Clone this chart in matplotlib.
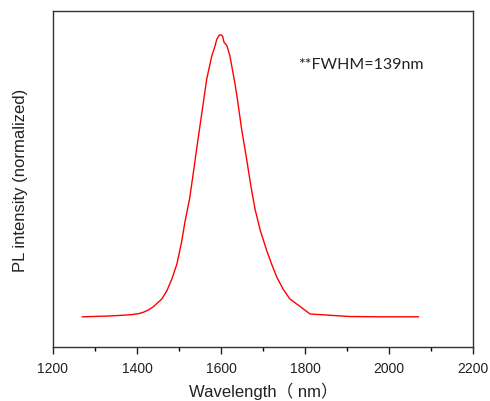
import matplotlib
matplotlib.use("Agg")
import matplotlib.pyplot as plt
from matplotlib.ticker import MultipleLocator, NullLocator

# 스펙트럼 데이터
wavelength = [1270, 1336, 1383, 1403, 1415, 1428, 1439, 1459, 1471, 1483,
              1495, 1506, 1514, 1525, 1532, 1542, 1558, 1566, 1578, 1586,
              1590, 1596, 1601, 1604, 1607, 1614, 1621, 1633, 1639, 1649,
              1661, 1671, 1681, 1693, 1709, 1720, 1733, 1748, 1764, 1788,
              1812, 1844, 1907, 1979, 2070]
intensity = [0.001, 0.004, 0.008, 0.012, 0.017, 0.026, 0.037, 0.064, 0.093, 0.135,
             0.188, 0.265, 0.336, 0.418, 0.489, 0.596, 0.761, 0.844, 0.925, 0.962,
             0.985, 1.000, 1.000, 0.995, 0.975, 0.962, 0.927, 0.830, 0.773, 0.667,
             0.560, 0.466, 0.383, 0.310, 0.235, 0.190, 0.141, 0.099, 0.064, 0.038,
             0.011, 0.008, 0.002, 0.001, 0.001]

annotation = "**FWHM=139nm"

plt.rcParams['font.family'] = ['Liberation Sans', 'Noto Sans CJK SC']

fig = plt.figure(figsize=(4.9, 4.02), dpi=100)
ax = fig.add_axes([53 / 490, 54 / 402, 420 / 490, 336 / 402])

ax.plot(wavelength, intensity, color='#ff0000', lw=1.0)

ax.set_xlim(1200, 2200)
ax.set_ylim(-0.106, 1.085)

ax.xaxis.set_major_locator(MultipleLocator(200))
ax.xaxis.set_minor_locator(MultipleLocator(100))
ax.yaxis.set_major_locator(NullLocator())
ax.tick_params(axis='x', which='major', direction='out', length=5, width=1,
               labelsize=10, pad=5, colors='#222222')
ax.tick_params(axis='x', which='minor', direction='out', length=2.7, width=1)

for s in ax.spines.values():
    s.set_color('#333333')
    s.set_linewidth(1.0)

ax.set_xlabel("Wavelength（ nm）", fontsize=12, color='#222222', labelpad=5)
ax.set_ylabel("PL intensity (normalized)", fontsize=12, color='#222222', labelpad=18)

ax.text(1783, 0.897, annotation, family=['Lato', 'DejaVu Sans'], fontsize=11.5,
        ha='left', va='center', color='#222222')

fig.savefig("out.png", dpi=100)
